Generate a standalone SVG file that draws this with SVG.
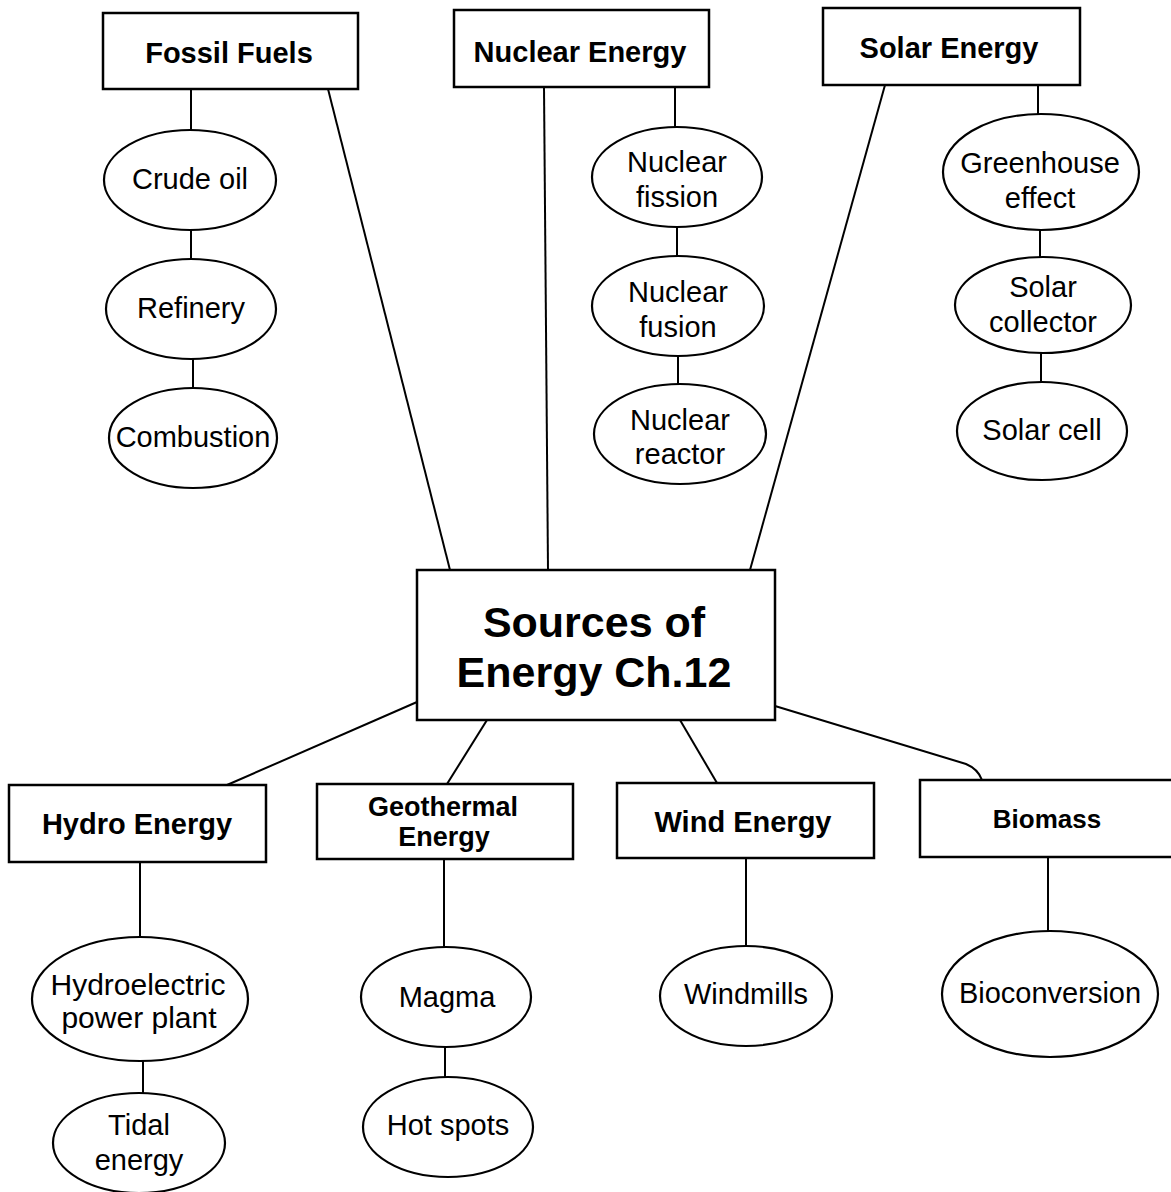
<svg xmlns="http://www.w3.org/2000/svg" width="1171" height="1192" viewBox="0 0 1171 1192">
<style>
.box{fill:#fff;stroke:#000;stroke-width:2.5}
.ell{fill:#fff;stroke:#000;stroke-width:2.2}
.con{fill:none;stroke:#000;stroke-width:2}
.bt{font-family:"Liberation Sans",Arial,sans-serif;font-weight:bold;font-size:29px;text-anchor:middle;fill:#000}
.et{font-family:"Liberation Sans",Arial,sans-serif;font-size:29px;text-anchor:middle;fill:#000}
.ct{font-family:"Liberation Sans",Arial,sans-serif;font-weight:bold;font-size:43px;text-anchor:middle;fill:#000}
</style>
<rect width="1171" height="1192" fill="#fff"/>
<g id="connectors">
<line class="con" x1="328" y1="89" x2="450" y2="570"/>
<line class="con" x1="544" y1="87" x2="548" y2="570"/>
<line class="con" x1="885" y1="85" x2="750" y2="570"/>
<line class="con" x1="417" y1="702" x2="227" y2="785"/>
<line class="con" x1="487" y1="720" x2="447" y2="784"/>
<line class="con" x1="680" y1="720" x2="717" y2="783"/>
<path class="con" d="M775,706 L966,764 Q978,769 982,780"/>
<line class="con" x1="191" y1="89" x2="191" y2="130"/>
<line class="con" x1="191" y1="230" x2="191" y2="259"/>
<line class="con" x1="193" y1="359" x2="193" y2="388"/>
<line class="con" x1="675" y1="87" x2="675" y2="127"/>
<line class="con" x1="677" y1="227" x2="677" y2="256"/>
<line class="con" x1="678" y1="356" x2="678" y2="384"/>
<line class="con" x1="1038" y1="85" x2="1038" y2="115"/>
<line class="con" x1="1040" y1="230" x2="1040" y2="258"/>
<line class="con" x1="1041" y1="353" x2="1041" y2="382"/>
<line class="con" x1="140" y1="862" x2="140" y2="937"/>
<line class="con" x1="143" y1="1061" x2="143" y2="1093"/>
<line class="con" x1="444" y1="859" x2="444" y2="948"/>
<line class="con" x1="445" y1="1047" x2="445" y2="1077"/>
<line class="con" x1="746" y1="858" x2="746" y2="946"/>
<line class="con" x1="1048" y1="857" x2="1048" y2="931"/>
</g>
<g id="center">
<rect class="box" x="417" y="570" width="358" height="150"/>
<text class="ct" x="594" y="637">Sources of</text>
<text class="ct" x="594" y="687">Energy Ch.12</text>
</g>
<g id="fossil">
<rect class="box" x="103" y="13" width="255" height="76"/>
<text class="bt" x="229" y="63">Fossil Fuels</text>
</g>
<g id="crude">
<ellipse class="ell" cx="190" cy="180" rx="86" ry="50"/>
<text class="et" x="190" y="189">Crude oil</text>
</g>
<g id="refinery">
<ellipse class="ell" cx="191" cy="309" rx="85" ry="50"/>
<text class="et" x="191" y="318">Refinery</text>
</g>
<g id="combustion">
<ellipse class="ell" cx="193" cy="438" rx="84" ry="50"/>
<text class="et" x="193" y="447">Combustion</text>
</g>
<g id="nuclear">
<rect class="box" x="454" y="10" width="255" height="77"/>
<text class="bt" x="580" y="62">Nuclear Energy</text>
</g>
<g id="fission">
<ellipse class="ell" cx="677" cy="177" rx="85" ry="50"/>
<text class="et" x="677" y="172">Nuclear</text>
<text class="et" x="677" y="207">fission</text>
</g>
<g id="fusion">
<ellipse class="ell" cx="678" cy="306" rx="86" ry="50"/>
<text class="et" x="678" y="302">Nuclear</text>
<text class="et" x="678" y="337">fusion</text>
</g>
<g id="reactor">
<ellipse class="ell" cx="680" cy="434" rx="86" ry="50"/>
<text class="et" x="680" y="430">Nuclear</text>
<text class="et" x="680" y="464">reactor</text>
</g>
<g id="solar">
<rect class="box" x="823" y="8" width="257" height="77"/>
<text class="bt" x="949" y="58">Solar Energy</text>
</g>
<g id="greenhouse">
<ellipse class="ell" cx="1041" cy="172" rx="98" ry="58"/>
<text class="et" x="1040" y="173">Greenhouse</text>
<text class="et" x="1040" y="208">effect</text>
</g>
<g id="collector">
<ellipse class="ell" cx="1043" cy="305" rx="88" ry="48"/>
<text class="et" x="1043" y="297">Solar</text>
<text class="et" x="1043" y="332">collector</text>
</g>
<g id="solarcell">
<ellipse class="ell" cx="1042" cy="431" rx="85" ry="49"/>
<text class="et" x="1042" y="440">Solar cell</text>
</g>
<g id="hydro">
<rect class="box" x="9" y="785" width="257" height="77"/>
<text class="bt" x="137" y="834">Hydro Energy</text>
</g>
<g id="hydroelectric">
<ellipse class="ell" cx="140" cy="999" rx="108" ry="62"/>
<text class="et" x="138" y="995" style="font-size:30px">Hydroelectric</text>
<text class="et" x="139" y="1028" style="font-size:30px">power plant</text>
</g>
<g id="tidal">
<ellipse class="ell" cx="139" cy="1143" rx="86" ry="50"/>
<text class="et" x="139" y="1135">Tidal</text>
<text class="et" x="139" y="1170">energy</text>
</g>
<g id="geothermal">
<rect class="box" x="317" y="784" width="256" height="75"/>
<text class="bt" x="443" y="816" style="font-size:27px">Geothermal</text>
<text class="bt" x="444" y="846" style="font-size:27px">Energy</text>
</g>
<g id="magma">
<ellipse class="ell" cx="446" cy="997" rx="85" ry="50"/>
<text class="et" x="447" y="1007">Magma</text>
</g>
<g id="hotspots">
<ellipse class="ell" cx="448" cy="1127" rx="85" ry="50"/>
<text class="et" x="448" y="1135">Hot spots</text>
</g>
<g id="wind">
<rect class="box" x="617" y="783" width="257" height="75"/>
<text class="bt" x="743" y="832">Wind Energy</text>
</g>
<g id="windmills">
<ellipse class="ell" cx="746" cy="996" rx="86" ry="50"/>
<text class="et" x="746" y="1004">Windmills</text>
</g>
<g id="biomass">
<rect class="box" x="920" y="780" width="256" height="77"/>
<text class="bt" x="1047" y="828" style="font-size:26px">Biomass</text>
</g>
<g id="bioconversion">
<ellipse class="ell" cx="1050" cy="994" rx="108" ry="63"/>
<text class="et" x="1050" y="1003">Bioconversion</text>
</g>
</svg>
